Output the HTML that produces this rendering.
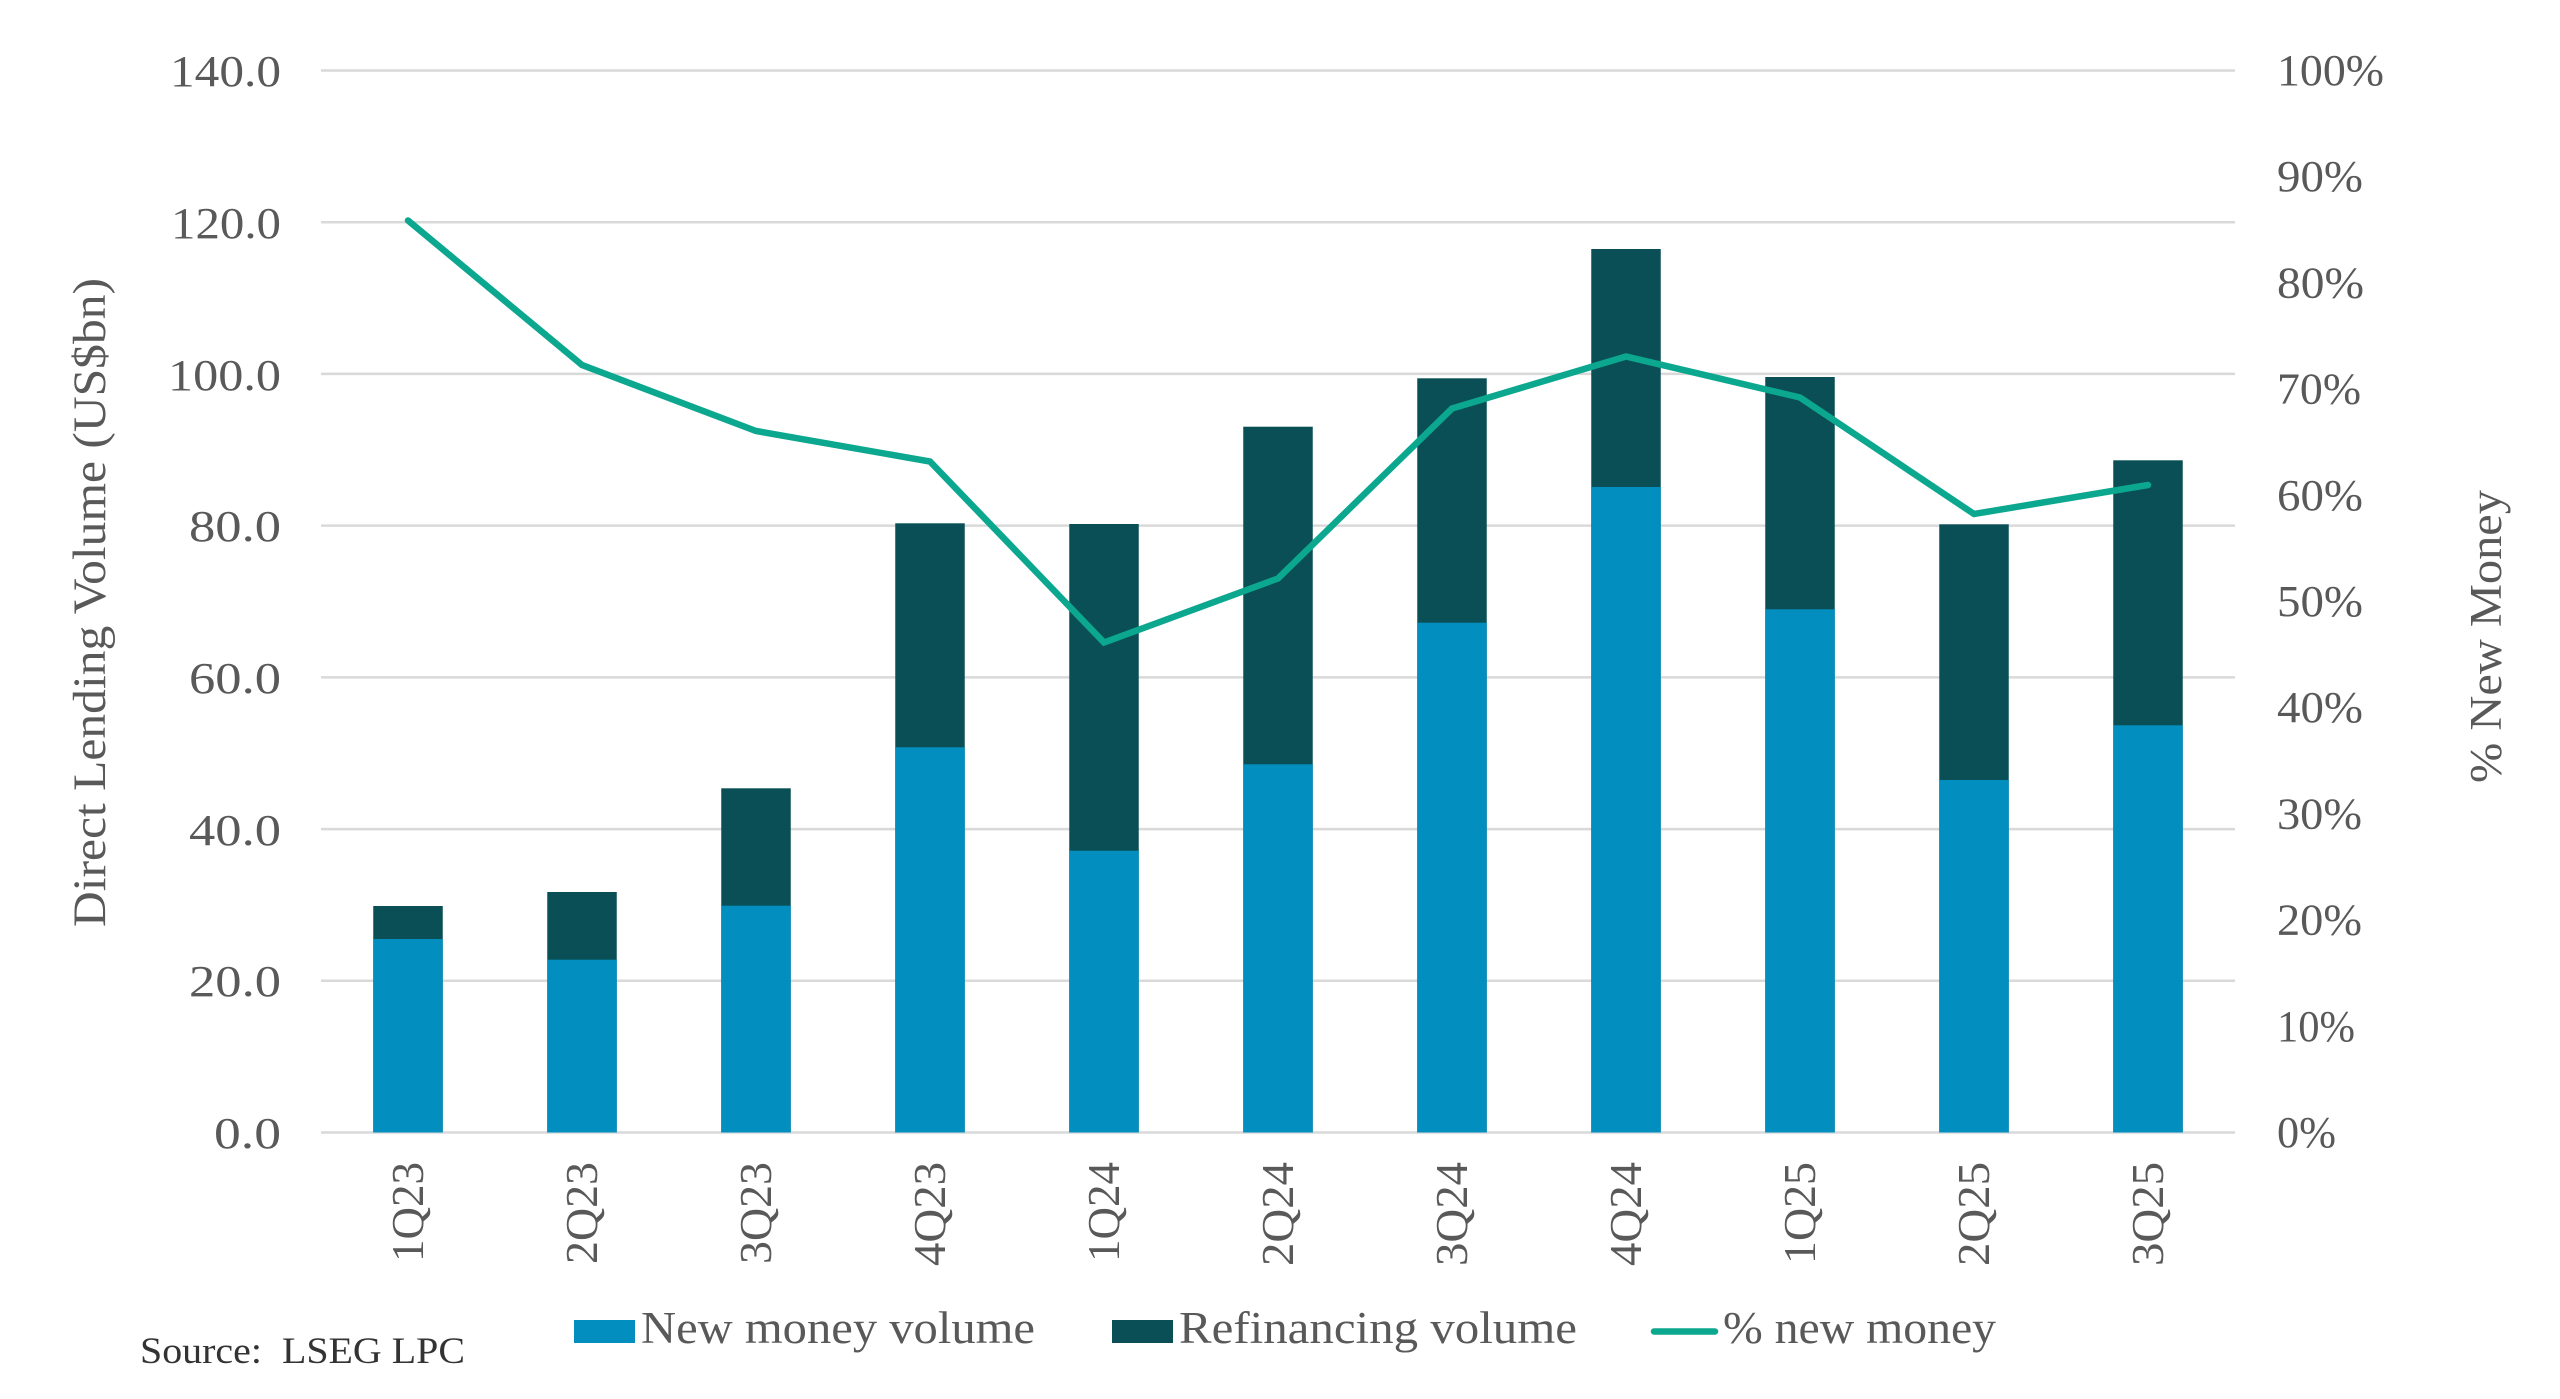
<!DOCTYPE html>
<html>
<head>
<meta charset="utf-8">
<style>
  html,body{margin:0;padding:0;background:#fff;}
  body{width:2560px;height:1399px;overflow:hidden;}
  svg{display:block;}
  text{font-family:"Liberation Serif","DejaVu Serif",serif;fill:#595959;}
</style>
</head>
<body>
<svg width="2560" height="1399" viewBox="0 0 2560 1399" xmlns="http://www.w3.org/2000/svg">
  <rect width="2560" height="1399" fill="#ffffff"/>

  <!-- gridlines -->
  <g stroke="#d9d9d9" stroke-width="2.5">
    <line x1="321" y1="70.5" x2="2235" y2="70.5"/>
    <line x1="321" y1="222.2" x2="2235" y2="222.2"/>
    <line x1="321" y1="373.9" x2="2235" y2="373.9"/>
    <line x1="321" y1="525.6" x2="2235" y2="525.6"/>
    <line x1="321" y1="677.4" x2="2235" y2="677.4"/>
    <line x1="321" y1="829.1" x2="2235" y2="829.1"/>
    <line x1="321" y1="980.8" x2="2235" y2="980.8"/>
    <line x1="321" y1="1132.5" x2="2235" y2="1132.5"/>
  </g>

  <!-- left tick labels -->
  <g font-size="44" text-anchor="end">
    <text x="281" y="86" textLength="111" lengthAdjust="spacingAndGlyphs">140.0</text>
    <text x="281" y="238" textLength="110" lengthAdjust="spacingAndGlyphs">120.0</text>
    <text x="281" y="390" textLength="113" lengthAdjust="spacingAndGlyphs">100.0</text>
    <text x="281" y="541" textLength="92" lengthAdjust="spacingAndGlyphs">80.0</text>
    <text x="281" y="693" textLength="92" lengthAdjust="spacingAndGlyphs">60.0</text>
    <text x="281" y="845" textLength="92" lengthAdjust="spacingAndGlyphs">40.0</text>
    <text x="281" y="996" textLength="92" lengthAdjust="spacingAndGlyphs">20.0</text>
    <text x="281" y="1148" textLength="67" lengthAdjust="spacingAndGlyphs">0.0</text>
  </g>

  <!-- right tick labels -->
  <g font-size="44">
    <text x="2277" y="85" textLength="107" lengthAdjust="spacingAndGlyphs">100%</text>
    <text x="2277" y="191.2" textLength="86" lengthAdjust="spacingAndGlyphs">90%</text>
    <text x="2277" y="297.4" textLength="87" lengthAdjust="spacingAndGlyphs">80%</text>
    <text x="2277" y="403.6" textLength="84" lengthAdjust="spacingAndGlyphs">70%</text>
    <text x="2277" y="509.8" textLength="86" lengthAdjust="spacingAndGlyphs">60%</text>
    <text x="2277" y="616" textLength="86" lengthAdjust="spacingAndGlyphs">50%</text>
    <text x="2277" y="722.2" textLength="86" lengthAdjust="spacingAndGlyphs">40%</text>
    <text x="2277" y="828.4" textLength="85" lengthAdjust="spacingAndGlyphs">30%</text>
    <text x="2277" y="934.6" textLength="85" lengthAdjust="spacingAndGlyphs">20%</text>
    <text x="2277" y="1040.8" textLength="78" lengthAdjust="spacingAndGlyphs">10%</text>
    <text x="2277" y="1147" textLength="59" lengthAdjust="spacingAndGlyphs">0%</text>
  </g>

  <!-- axis titles -->
  <text transform="translate(105,602.5) rotate(-90)" font-size="47" text-anchor="middle" textLength="649" lengthAdjust="spacingAndGlyphs">Direct Lending Volume (US$bn)</text>
  <text transform="translate(2501,636.5) rotate(-90)" font-size="45" text-anchor="middle" textLength="293" lengthAdjust="spacingAndGlyphs">% New Money</text>

  <!-- bars: refinancing (total) -->
  <g fill="#094f55">
    <rect x="373.25" y="906" width="69.5" height="226.5"/>
    <rect x="547.25" y="892" width="69.5" height="240.5"/>
    <rect x="721.25" y="788.3" width="69.5" height="344.2"/>
    <rect x="895.25" y="523.3" width="69.5" height="609.2"/>
    <rect x="1069.25" y="524" width="69.5" height="608.5"/>
    <rect x="1243.25" y="426.7" width="69.5" height="705.8"/>
    <rect x="1417.25" y="378.3" width="69.5" height="754.2"/>
    <rect x="1591.25" y="249" width="69.5" height="883.5"/>
    <rect x="1765.25" y="377" width="69.5" height="755.5"/>
    <rect x="1939.25" y="524.3" width="69.5" height="608.2"/>
    <rect x="2113.25" y="460.3" width="69.5" height="672.2"/>
  </g>
  <!-- bars: new money -->
  <g fill="#028fbf">
    <rect x="373.25" y="939" width="69.5" height="193.5"/>
    <rect x="547.25" y="959.7" width="69.5" height="172.8"/>
    <rect x="721.25" y="905.7" width="69.5" height="226.8"/>
    <rect x="895.25" y="747.3" width="69.5" height="385.2"/>
    <rect x="1069.25" y="850.7" width="69.5" height="281.8"/>
    <rect x="1243.25" y="764.3" width="69.5" height="368.2"/>
    <rect x="1417.25" y="622.7" width="69.5" height="509.8"/>
    <rect x="1591.25" y="487" width="69.5" height="645.5"/>
    <rect x="1765.25" y="609.3" width="69.5" height="523.2"/>
    <rect x="1939.25" y="780" width="69.5" height="352.5"/>
    <rect x="2113.25" y="725.3" width="69.5" height="407.2"/>
  </g>

  <!-- % new money line -->
  <polyline fill="none" stroke="#0ba78f" stroke-width="6.5" stroke-linejoin="miter" stroke-linecap="round"
    points="408,220.5 582,365 756,431 930,461.5 1104,642.5 1278,578.5 1452,408.5 1626,356.5 1800,397.5 1974,514 2148,485"/>

  <!-- x labels -->
  <g font-size="46" text-anchor="end">
    <text transform="translate(423,1162) rotate(-90)" textLength="100" lengthAdjust="spacingAndGlyphs">1Q23</text>
    <text transform="translate(597,1162) rotate(-90)" textLength="102" lengthAdjust="spacingAndGlyphs">2Q23</text>
    <text transform="translate(771,1162) rotate(-90)" textLength="102" lengthAdjust="spacingAndGlyphs">3Q23</text>
    <text transform="translate(945,1162) rotate(-90)" textLength="104" lengthAdjust="spacingAndGlyphs">4Q23</text>
    <text transform="translate(1119,1162) rotate(-90)" textLength="100" lengthAdjust="spacingAndGlyphs">1Q24</text>
    <text transform="translate(1293,1162) rotate(-90)" textLength="104" lengthAdjust="spacingAndGlyphs">2Q24</text>
    <text transform="translate(1467,1162) rotate(-90)" textLength="104" lengthAdjust="spacingAndGlyphs">3Q24</text>
    <text transform="translate(1641,1162) rotate(-90)" textLength="104" lengthAdjust="spacingAndGlyphs">4Q24</text>
    <text transform="translate(1815,1162) rotate(-90)" textLength="102" lengthAdjust="spacingAndGlyphs">1Q25</text>
    <text transform="translate(1989,1162) rotate(-90)" textLength="104" lengthAdjust="spacingAndGlyphs">2Q25</text>
    <text transform="translate(2163,1162) rotate(-90)" textLength="104" lengthAdjust="spacingAndGlyphs">3Q25</text>
  </g>

  <!-- legend -->
  <rect x="574" y="1320" width="61" height="23" fill="#028fbf"/>
  <text x="641" y="1343" font-size="45" textLength="394" lengthAdjust="spacingAndGlyphs">New money volume</text>
  <rect x="1112" y="1320" width="61" height="23" fill="#094f55"/>
  <text x="1179" y="1343" font-size="45" textLength="398" lengthAdjust="spacingAndGlyphs">Refinancing volume</text>
  <line x1="1654" y1="1331.5" x2="1715" y2="1331.5" stroke="#0ba78f" stroke-width="6.5" stroke-linecap="round"/>
  <text x="1723" y="1343" font-size="45" textLength="273" lengthAdjust="spacingAndGlyphs">% new money</text>

  <!-- source -->
  <text x="140" y="1363" font-size="37" style="fill:#333333" textLength="325" lengthAdjust="spacingAndGlyphs" xml:space="preserve">Source:  LSEG LPC</text>
</svg>
</body>
</html>
